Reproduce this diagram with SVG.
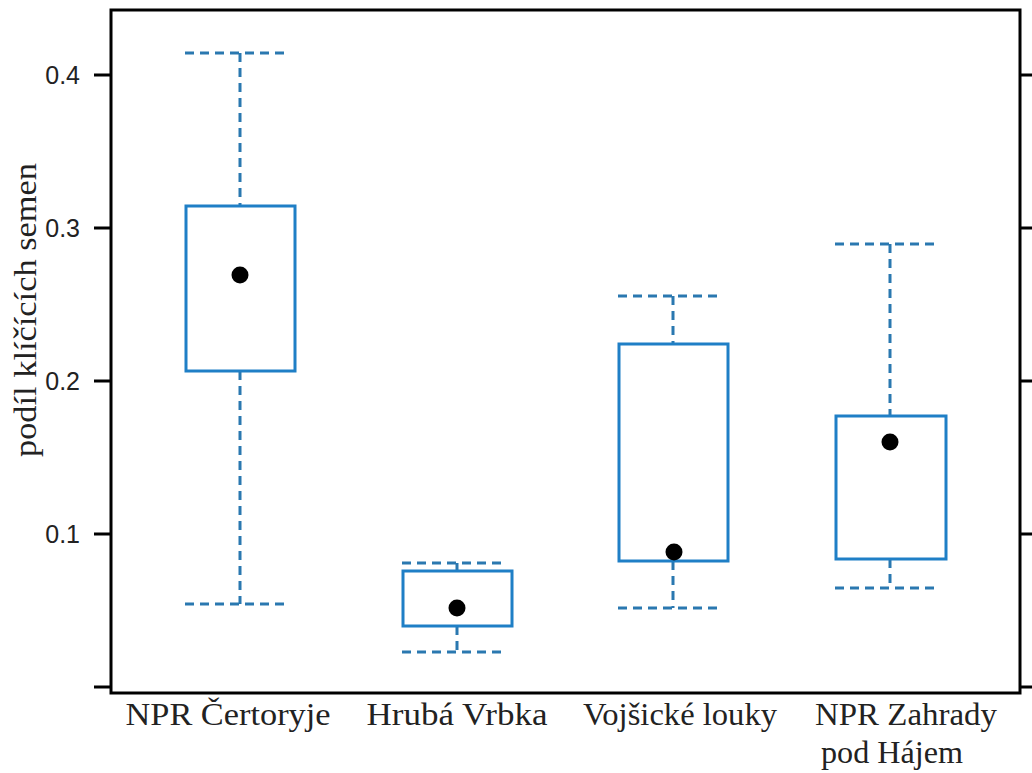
<svg xmlns="http://www.w3.org/2000/svg" width="1032" height="773" viewBox="0 0 1032 773">
<style>
.frame{fill:none;stroke:#000;stroke-width:3}
.tick{stroke:#000;stroke-width:3}
.box{fill:none;stroke:#1f7fc6;stroke-width:3}
.wh{stroke:#2a78b0;stroke-width:3;stroke-dasharray:9 6;fill:none}
.dot{fill:#000}
.tl{font-family:"Liberation Sans",Arial,sans-serif;font-size:25px;fill:#222;text-anchor:end}
.lab{font-family:"Liberation Serif","Times New Roman","DejaVu Serif",serif;font-size:31px;fill:#222;text-anchor:middle}
</style>
<rect width="1032" height="773" fill="#fff"/>
<g id="axes">
<rect class="frame" x="111" y="10" width="909" height="683"/>
<path class="tick" d="M94 75H111M94 228H111M94 381H111M94 534H111M94 687H111M1020 75H1032M1020 228H1032M1020 381H1032M1020 534H1032M1020 687H1032"/>
<text class="tl" x="80" y="84">0.4</text>
<text class="tl" x="80" y="237">0.3</text>
<text class="tl" x="80" y="390">0.2</text>
<text class="tl" x="80" y="543">0.1</text>
<text class="lab" font-family="Liberation Serif, serif" transform="translate(36 310) rotate(-90)" textLength="294" lengthAdjust="spacingAndGlyphs">podíl klíčících semen</text>
<text class="lab" font-family="Liberation Serif, serif" x="228" y="725" textLength="205" lengthAdjust="spacingAndGlyphs">NPR Čertoryje</text>
<text class="lab" font-family="Liberation Serif, serif" x="457" y="725" textLength="181" lengthAdjust="spacingAndGlyphs">Hrubá Vrbka</text>
<text class="lab" font-family="Liberation Serif, serif" x="680" y="725" textLength="194" lengthAdjust="spacingAndGlyphs">Vojšické louky</text>
<text class="lab" font-family="Liberation Serif, serif" x="906" y="725" textLength="182" lengthAdjust="spacingAndGlyphs">NPR Zahrady</text>
<text class="lab" font-family="Liberation Serif, serif" x="892" y="763" textLength="142" lengthAdjust="spacingAndGlyphs">pod Hájem</text>
</g>
<g id="box-certoryje">
<path class="wh" d="M185 53H290M240 53V206M240 371V604M185 604H290"/>
<rect class="box" x="186" y="206" width="109" height="165"/>
<circle class="dot" cx="240" cy="275" r="8.5"/>
</g>
<g id="box-hruba-vrbka">
<path class="wh" d="M402 563H506M457 563V571M457 626V652M402 652H506"/>
<rect class="box" x="403" y="571" width="109" height="55"/>
<circle class="dot" cx="457" cy="608" r="8.5"/>
</g>
<g id="box-vojsicke-louky">
<path class="wh" d="M618 296H723M673 296V344M673 561V608M618 608H723"/>
<rect class="box" x="619" y="344" width="109" height="217"/>
<circle class="dot" cx="674" cy="552" r="8.5"/>
</g>
<g id="box-zahrady">
<path class="wh" d="M835 244H940M890 244V416M890 559V588M835 588H940"/>
<rect class="box" x="836" y="416" width="110" height="143"/>
<circle class="dot" cx="890" cy="442" r="8.5"/>
</g>
</svg>
